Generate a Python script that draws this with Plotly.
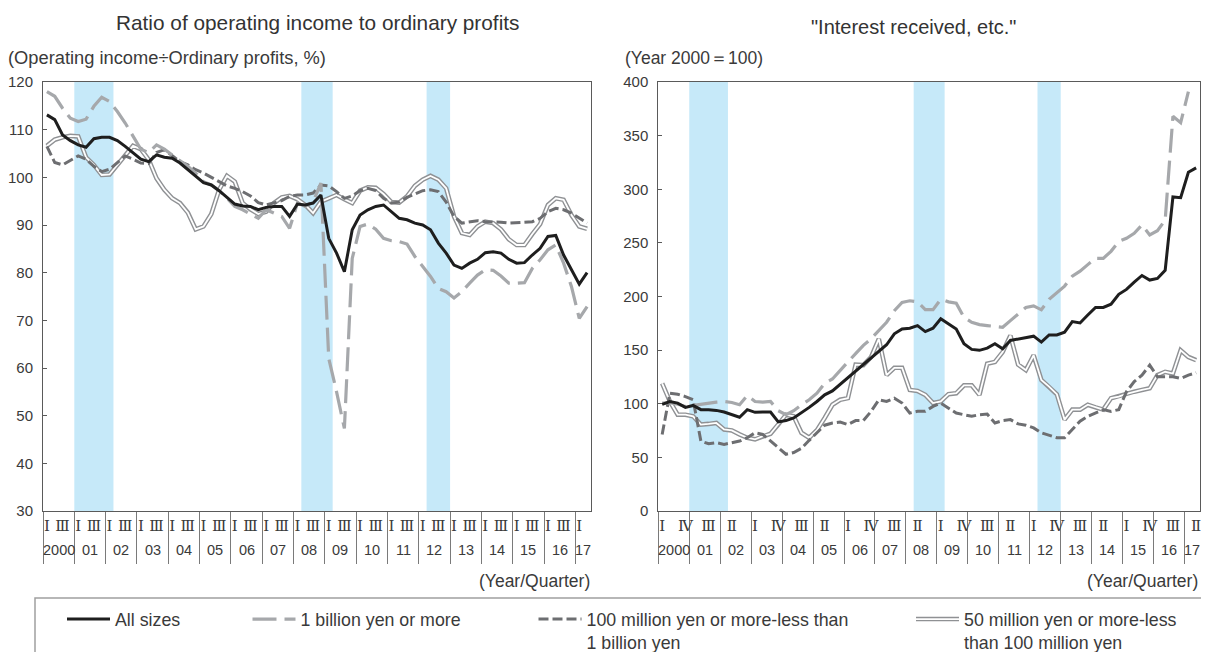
import plotly.graph_objects as go

# ---------------- data ----------------
quarter_index = list(range(70))  # 2000Q1 ... 2017Q2
year_labels = ["2000", "01", "02", "03", "04", "05", "06", "07", "08", "09",
               "10", "11", "12", "13", "14", "15", "16", "17"]
left_tick_vals = list(range(0, 70, 2))
left_tick_text = ["Ⅰ", "Ⅲ"] * 17 + ["Ⅰ"]
right_tick_vals = list(range(0, 70, 3))
right_tick_text = ["Ⅰ", "Ⅳ", "Ⅲ", "Ⅱ"] * 6
recession_start = [3.5, 32.5, 48.5]
recession_end = [8.5, 36.5, 51.5]

series_names = ["All sizes", "1 billion yen or more",
                "100 million yen or more-less than<br>1 billion yen",
                "50 million yen or more-less<br>than 100 million yen"]

# Ratio of operating income to ordinary profits (%)
L_all = [113.1, 112.1, 108.9, 107.7, 106.8, 106.3, 108.1, 108.4, 108.4, 107.7,
         106.5, 105.1, 103.8, 103.3, 104.7, 104.2, 104.0, 103.0, 101.6, 100.3,
         98.9, 98.4, 97.2, 95.8, 94.4, 94.0, 93.9, 93.2, 93.7, 93.9,
         93.9, 91.8, 94.4, 94.2, 94.6, 96.3, 87.2, 84.1, 80.2, 89.0,
         92.1, 93.2, 93.9, 94.2, 92.8, 91.4, 91.1, 90.4, 90.0, 89.0,
         86.2, 84.1, 81.6, 80.9, 82.0, 82.8, 84.2, 84.4, 84.1, 82.8,
         82.0, 82.1, 83.7, 85.1, 87.6, 87.8, 83.7, 80.6, 77.6, 80.0]
L_1b = [118.0, 117.0, 114.5, 112.4, 111.7, 112.2, 114.9, 116.8, 115.9, 113.8,
        111.4, 108.6, 105.9, 105.2, 106.8, 105.9, 104.7, 103.7, 102.3, 100.9,
        99.1, 98.4, 97.2, 95.6, 93.9, 93.2, 92.3, 91.4, 93.2, 92.5,
        91.8, 89.3, 94.6, 93.9, 94.9, 98.8, 62.0, 55.0, 47.3, 83.0,
        89.7, 90.2, 89.1, 87.2, 86.7, 86.5, 86.0, 83.4, 81.3, 79.2,
        76.7, 76.0, 74.7, 76.0, 77.8, 79.5, 80.6, 80.5, 79.3, 77.8,
        77.8, 77.9, 80.9, 82.7, 84.8, 85.8, 82.0, 77.1, 70.4, 72.9]
L_100m = [106.5, 103.1, 102.6, 103.5, 104.5, 103.8, 102.3, 101.2, 101.7, 103.1,
          104.5, 103.8, 103.0, 102.9, 105.2, 105.8, 104.5, 103.3, 102.6, 101.6,
          100.9, 100.0, 99.1, 98.2, 97.7, 97.0, 96.1, 94.7, 94.2, 94.7,
          95.1, 96.0, 96.3, 96.3, 96.7, 98.4, 98.2, 97.0, 95.6, 96.1,
          97.2, 97.7, 97.2, 95.6, 94.6, 94.8, 95.8, 96.5, 97.2, 97.4,
          97.0, 94.8, 91.8, 90.4, 90.7, 90.9, 90.7, 90.7, 90.6, 90.4,
          90.5, 90.7, 90.7, 91.4, 92.8, 93.5, 93.2, 92.5, 91.4, 90.4]
L_50m = [106.6, 107.9, 108.4, 108.7, 108.6, 104.2, 102.6, 100.5, 100.6, 102.6,
         104.7, 106.6, 105.9, 103.7, 99.8, 97.4, 95.6, 94.6, 92.6, 89.1,
         89.7, 92.3, 97.4, 100.3, 99.1, 94.6, 93.3, 92.3, 92.8, 94.6,
         95.8, 96.1, 95.4, 94.2, 92.5, 94.9, 95.6, 96.3, 95.4, 94.6,
         97.2, 97.9, 97.8, 96.5, 94.8, 94.7, 96.0, 98.2, 99.5, 100.3,
         99.5, 97.7, 91.8, 88.3, 87.9, 89.7, 90.7, 90.4, 89.1, 87.0,
         85.8, 85.8, 88.1, 90.2, 94.2, 95.6, 95.3, 92.1, 89.7, 89.2]

# "Interest received, etc." (Year 2000 = 100)
R_all = [99.5, 102.1, 100.6, 96.6, 98.4, 94.5, 94.5, 93.8, 92.3, 89.8,
         87.4, 94.5, 92.0, 92.3, 92.3, 83.0, 84.3, 86.7, 91.3, 96.6,
         102.1, 108.3, 112.0, 118.1, 124.3, 130.4, 136.6, 142.7, 148.9, 155.0,
         165.2, 169.8, 170.4, 172.8, 167.3, 170.4, 179.3, 174.4, 169.7, 155.9,
         150.7, 149.8, 151.9, 155.9, 151.3, 159.0, 160.5, 162.1, 163.0, 157.5,
         164.2, 164.2, 166.7, 176.6, 175.3, 182.7, 189.8, 189.8, 192.8, 202.0,
         206.6, 213.4, 219.6, 215.3, 216.8, 224.5, 292.8, 292.2, 315.8, 319.9]
R_1b = [100.5, 101.0, 99.5, 97.5, 98.4, 99.6, 100.8, 101.5, 102.1, 101.2,
        99.1, 107.7, 102.1, 101.5, 102.1, 93.5, 89.8, 93.5, 99.1, 103.7,
        109.9, 119.1, 123.1, 131.4, 139.0, 146.7, 154.4, 160.6, 168.3, 176.0,
        186.7, 194.4, 196.0, 195.0, 187.7, 187.7, 197.4, 195.0, 193.8, 180.5,
        175.9, 173.8, 172.9, 172.2, 171.3, 177.5, 183.6, 189.8, 191.3, 187.6,
        197.4, 203.6, 209.7, 219.0, 223.6, 229.7, 235.6, 235.6, 242.1, 251.3,
        254.3, 258.9, 266.6, 257.4, 261.4, 271.2, 368.0, 362.0, 391.0, None]
R_100m = [71.4, 109.8, 108.9, 106.7, 103.7, 65.2, 62.7, 63.7, 62.1, 63.7,
          65.2, 68.3, 72.9, 71.4, 65.2, 58.5, 52.9, 54.5, 58.5, 65.9,
          72.9, 80.0, 82.1, 83.0, 80.6, 84.3, 84.3, 92.9, 103.7, 102.1,
          105.2, 100.6, 91.3, 92.9, 92.9, 97.5, 100.6, 95.9, 91.3, 89.8,
          88.3, 89.8, 90.4, 82.1, 84.3, 85.2, 81.2, 80.0, 77.5, 72.9,
          70.8, 68.3, 68.3, 76.0, 83.7, 88.3, 91.3, 94.5, 92.9, 94.5,
          111.3, 120.6, 126.7, 136.0, 125.2, 125.2, 125.2, 123.6, 126.7, 128.9]
R_50m = [119.0, 102.1, 89.8, 89.8, 88.3, 80.6, 81.2, 82.1, 76.0, 75.1,
         71.4, 68.3, 66.8, 69.8, 72.0, 80.6, 89.8, 88.3, 72.9, 68.3,
         75.4, 86.7, 99.1, 103.7, 105.2, 136.5, 136.0, 143.6, 160.5, 126.7,
         133.5, 133.5, 112.9, 112.0, 108.3, 100.6, 102.1, 108.9, 109.8, 117.2,
         117.2, 108.3, 137.4, 139.0, 148.2, 163.6, 136.5, 131.3, 145.2, 122.1,
         116.0, 108.9, 85.2, 94.5, 94.5, 99.1, 96.6, 94.5, 105.2, 106.7,
         109.2, 111.3, 112.9, 114.4, 126.7, 129.8, 128.2, 149.8, 143.6, 140.6]

# ---------------- layout helpers ----------------
# the page body adds an 8 px offset; the figure is sized to the visible area
OFF = 8
W, H = 1209 - 2 * OFF, 652 - OFF
ML, MR, MT = 43 - OFF, 1, 82 - OFF
MB = H - (511 - OFF)
PW = W - ML - MR
PH = H - MT - MB


def pxx(sx):
    """screen x (window px) -> paper x"""
    return (sx - OFF - ML) / PW


def pxy(sy):
    """screen y (window px) -> paper y"""
    return (H - MB - (sy - OFF)) / PH


FONT = "Liberation Sans, Arial, sans-serif"
TXT = "#3a3a3a"
AX = "#5a5a5a"
BAND = "#c6e9f9"
C_ALL = "#1e1e1e"
C_1B = "#a6a8ab"
C_100M = "#6d6e71"
C_50M = "#8f9194"

fig = go.Figure()


def add_chart(xa, ya, s_all, s_1b, s_100m, s_50m, show):
    fig.add_trace(go.Scatter(x=quarter_index, y=s_50m, mode="lines", name=series_names[3],
                             line=dict(color=C_50M, width=4.6), xaxis=xa, yaxis=ya,
                             legend="legend4", showlegend=show, hoverinfo="skip"))
    fig.add_trace(go.Scatter(x=quarter_index, y=s_50m, mode="lines", name="\u00a0",
                             line=dict(color="white", width=1.8), xaxis=xa, yaxis=ya,
                             legend="legend5", showlegend=show, hoverinfo="skip"))
    fig.add_trace(go.Scatter(x=quarter_index, y=s_100m, mode="lines", name=series_names[2],
                             line=dict(color=C_100M, width=3, dash="10px,4px"), xaxis=xa, yaxis=ya,
                             legend="legend3", showlegend=show, hoverinfo="skip"))
    fig.add_trace(go.Scatter(x=quarter_index, y=s_1b, mode="lines", name=series_names[1],
                             line=dict(color=C_1B, width=3.2, dash="24px,8px"), xaxis=xa, yaxis=ya,
                             legend="legend2", showlegend=show, hoverinfo="skip",
                             connectgaps=False))
    fig.add_trace(go.Scatter(x=quarter_index, y=s_all, mode="lines", name=series_names[0],
                             line=dict(color=C_ALL, width=3), xaxis=xa, yaxis=ya,
                             legend="legend", showlegend=show, hoverinfo="skip"))


add_chart("x", "y", L_all, L_1b, L_100m, L_50m, True)
add_chart("x2", "y2", R_all, R_1b, R_100m, R_50m, False)

year_bounds = [4 * k - 0.5 for k in range(18)]

xcommon = dict(range=[-0.5, 69.5], tickmode="array", ticks="", showgrid=False,
               zeroline=False, showline=True, linecolor=AX, linewidth=1, mirror=True,
               tickfont=dict(family="DejaVu Serif, Liberation Serif, serif", size=15, color=TXT),
               ticklabelstandoff=1, ticklabeloverflow="allow",
               minor=dict(tickmode="array", tickvals=year_bounds, ticks="outside",
                          ticklen=52, tickcolor="#7a7a7a", tickwidth=1, showgrid=False))
ycommon = dict(showgrid=False, zeroline=False, showline=True, linecolor=AX, linewidth=1,
               mirror=True, ticks="inside", ticklen=4, tickcolor=AX,
               tickfont=dict(family=FONT, size=15, color=TXT), ticklabelstandoff=6)

fig.update_layout(
    width=W, height=H,
    margin=dict(l=ML, r=MR, t=MT, b=MB, autoexpand=False),
    paper_bgcolor="white", plot_bgcolor="white",
    font=dict(family=FONT, color=TXT),
    xaxis=dict(domain=[0, pxx(591)], tickvals=left_tick_vals, ticktext=left_tick_text, anchor="y", **xcommon),
    yaxis=dict(domain=[0, 1], range=[30, 120], tick0=30, dtick=10, anchor="x", **ycommon),
    xaxis2=dict(domain=[pxx(658.3), 1], tickvals=right_tick_vals, ticktext=right_tick_text, anchor="y2", **xcommon),
    yaxis2=dict(domain=[0, 1], range=[0, 400], tick0=0, dtick=50, anchor="x2", **ycommon),
    hovermode=False,
)

legend_common = dict(orientation="v", xanchor="left", yanchor="top", xref="paper", yref="paper",
                     bgcolor="rgba(0,0,0,0)", borderwidth=0, valign="top", itemwidth=43,
                     font=dict(family=FONT, size=17.8, color=TXT), itemclick=False,
                     itemdoubleclick=False)
leg_top = pxy(601)
fig.update_layout(
    legend=dict(x=pxx(62), y=leg_top, **legend_common),
    legend2=dict(x=pxx(247.5), y=leg_top, **legend_common),
    legend3=dict(x=pxx(533.5), y=leg_top, **legend_common),
    legend4=dict(x=pxx(911), y=leg_top, **legend_common),
    legend5=dict(x=pxx(911), y=leg_top, **legend_common),
)

shapes = []
for xr, yr in (("x", "y domain"), ("x2", "y2 domain")):
    for a, b in zip(recession_start, recession_end):
        shapes.append(dict(type="rect", xref=xr, yref=yr, x0=a, x1=b, y0=0, y1=1,
                           fillcolor=BAND, line=dict(width=0), layer="below"))
# legend frame
shapes.append(dict(type="rect", xref="paper", yref="paper", x0=pxx(35), x1=pxx(1240),
                   y0=pxy(598), y1=pxy(700), line=dict(color="#a0a0a0", width=1.5),
                   fillcolor="rgba(0,0,0,0)", layer="above"))
fig.update_layout(shapes=shapes)

ann = []
ann.append(dict(text="Ratio of operating income to ordinary profits", x=pxx(317), y=pxy(22),
                xref="paper", yref="paper", xanchor="center", yanchor="middle", showarrow=False,
                font=dict(size=20.8, color="#333333")))
ann.append(dict(text="\"Interest received, etc.\"", x=pxx(913.5), y=pxy(27),
                xref="paper", yref="paper", xanchor="center", yanchor="middle", showarrow=False,
                font=dict(size=20, color="#333333")))
ann.append(dict(text="(Operating income÷Ordinary profits, %)", x=pxx(6), y=pxy(58),
                xref="paper", yref="paper", xanchor="left", yanchor="middle", showarrow=False,
                font=dict(size=18.3, color=TXT)))
ann.append(dict(text="(Year 2000＝100)", x=pxx(623), y=pxy(58),
                xref="paper", yref="paper", xanchor="left", yanchor="middle", showarrow=False,
                font=dict(size=17.5, color=TXT)))
for xe in (592, 1200):
    ann.append(dict(text="(Year/Quarter)", x=pxx(xe), y=pxy(581), xref="paper", yref="paper",
                    xanchor="right", yanchor="middle", showarrow=False,
                    font=dict(size=17.5, color=TXT)))
for xr in ("x", "x2"):
    for k, lab in enumerate(year_labels):
        cx = 4 * k + 1.5 if k < 17 else 68.5
        ann.append(dict(text=lab, x=cx, y=pxy(550), xref=xr, yref="paper",
                        xanchor="center", yanchor="middle", showarrow=False,
                        font=dict(size=14.5, color=TXT)))
fig.update_layout(annotations=ann)

fig.write_html("out.html")
